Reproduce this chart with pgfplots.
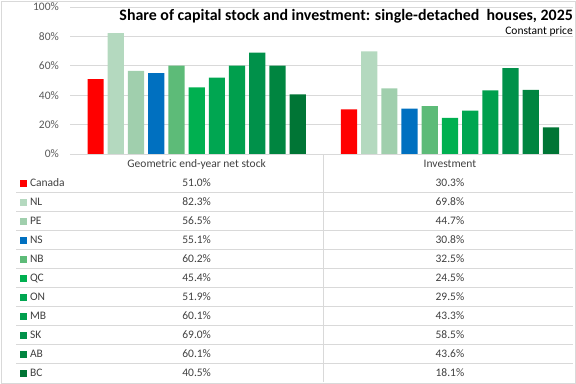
\documentclass[border=0pt]{standalone}
\usepackage{pgfplots}
\pgfplotsset{compat=1.18}
\usepackage{pgfplotstable}
\usepackage{fontspec}
\setmainfont{Carlito}
\definecolor{cCA}{HTML}{FF0000}
\definecolor{cNL}{HTML}{B4D9BF}
\definecolor{cPE}{HTML}{A0CFAD}
\definecolor{cNS}{HTML}{0070C0}
\definecolor{cNB}{HTML}{5DBB78}
\definecolor{cQC}{HTML}{00B050}
\definecolor{cON}{HTML}{00A651}
\definecolor{cMB}{HTML}{009F4D}
\definecolor{cSK}{HTML}{00914A}
\definecolor{cAB}{HTML}{008540}
\definecolor{cBC}{HTML}{007535}
\definecolor{gridc}{HTML}{D9D9D9}
\definecolor{tickc}{HTML}{595959}
\definecolor{txtc}{HTML}{404040}
\newcommand\tfont{\fontsize{11.5bp}{13bp}\selectfont}
\pgfplotstableread{
row name stock inv
1 Canada 51.0 30.3
2 NL 82.3 69.8
3 PE 56.5 44.7
4 NS 55.1 30.8
5 NB 60.2 32.5
6 QC 45.4 24.5
7 ON 51.9 29.5
8 MB 60.1 43.3
9 SK 69.0 58.5
10 AB 60.1 43.6
11 BC 40.5 18.1
}\datatab
\begin{document}
\begin{tikzpicture}
\useasboundingbox (0,0) rectangle (576bp,384bp);
\draw[gridc, line width=1bp] (1.5bp,0.5bp) rectangle (575bp,382.5bp);
\node[anchor=base east, inner sep=0pt, font=\bfseries\fontsize{15.9bp}{17bp}\selectfont] at (573bp,363bp) {Share of capital stock and investment: single-detached~ houses, 2025};
\node[anchor=base east, inner sep=0pt, font=\tfont] at (573bp,349bp) {Constant price};
% table grid and values
\begin{axis}[at={(16bp,230bp)}, anchor=north west, scale only axis,
  width=557bp, height=228bp,
  xmin=-0.2132, xmax=1.9858, ymin=-0.5, ymax=11.5, y dir=reverse,
  axis line style={draw=none}, major tick length=0pt,
  xtick={1}, ytick={1.5,2.5,...,10.5}, xticklabels={}, yticklabels={},
  xmajorgrids, ymajorgrids, grid style={gridc, line width=0.75bp},
  nodes near coords style={anchor=base, yshift=-4bp, inner sep=0pt, font=\tfont, text=txtc},
]
\addplot[draw=none, nodes near coords={\pgfplotspointmeta\%}, point meta=explicit symbolic]
  table[x expr=0.5, y=row, meta=stock] {\datatab};
\addplot[draw=none, nodes near coords={\pgfplotspointmeta\%}, point meta=explicit symbolic]
  table[x expr=1.5, y=row, meta=inv] {\datatab};
\end{axis}
% bars
\begin{axis}[at={(70bp,230bp)}, anchor=south west, scale only axis,
  width=503bp, height=147bp,
  xmin=0, xmax=1.9858, ymin=0, ymax=100,
  ybar=4bp, bar width=16.2bp,
  axis line style={draw=none}, major tick length=0pt,
  ytick={0,20,40,60,80,100},
  yticklabels={0\%,20\%,40\%,60\%,80\%,100\%},
  yticklabel style={anchor=east, inner sep=0pt, xshift=-11bp, font=\tfont, text=tickc},
  xtick={0.5,1.5},
  xticklabels={Geometric end-year net stock, Investment},
  xticklabel style={anchor=base, inner sep=0pt, yshift=-13.5bp, font=\tfont, text=txtc},
  ymajorgrids, grid style={gridc, line width=0.75bp},
  legend image code/.code={\fill[#1] (0bp,-4bp) rectangle (7bp,3bp);},
  legend cell align=left,
  legend style={at={(axis description cs:-0.0994,-0.12925)}, anchor=north west,
    draw=none, fill=none, inner sep=0pt, outer sep=0pt, row sep=0pt, column sep=3bp,
    nodes={inner sep=0pt, outer sep=0pt, text height=13.5bp, text depth=5.5bp, font=\tfont, text=txtc}},
]
\addplot[draw=none, fill=cCA] coordinates {(0.5,51.0) (1.5,30.3)};
\addplot[draw=none, fill=cNL] coordinates {(0.5,82.3) (1.5,69.8)};
\addplot[draw=none, fill=cPE] coordinates {(0.5,56.5) (1.5,44.7)};
\addplot[draw=none, fill=cNS] coordinates {(0.5,55.1) (1.5,30.8)};
\addplot[draw=none, fill=cNB] coordinates {(0.5,60.2) (1.5,32.5)};
\addplot[draw=none, fill=cQC] coordinates {(0.5,45.4) (1.5,24.5)};
\addplot[draw=none, fill=cON] coordinates {(0.5,51.9) (1.5,29.5)};
\addplot[draw=none, fill=cMB] coordinates {(0.5,60.1) (1.5,43.3)};
\addplot[draw=none, fill=cSK] coordinates {(0.5,69.0) (1.5,58.5)};
\addplot[draw=none, fill=cAB] coordinates {(0.5,60.1) (1.5,43.6)};
\addplot[draw=none, fill=cBC] coordinates {(0.5,40.5) (1.5,18.1)};
\legend{Canada,NL,PE,NS,NB,QC,ON,MB,SK,AB,BC}
\end{axis}
\end{tikzpicture}
\end{document}
